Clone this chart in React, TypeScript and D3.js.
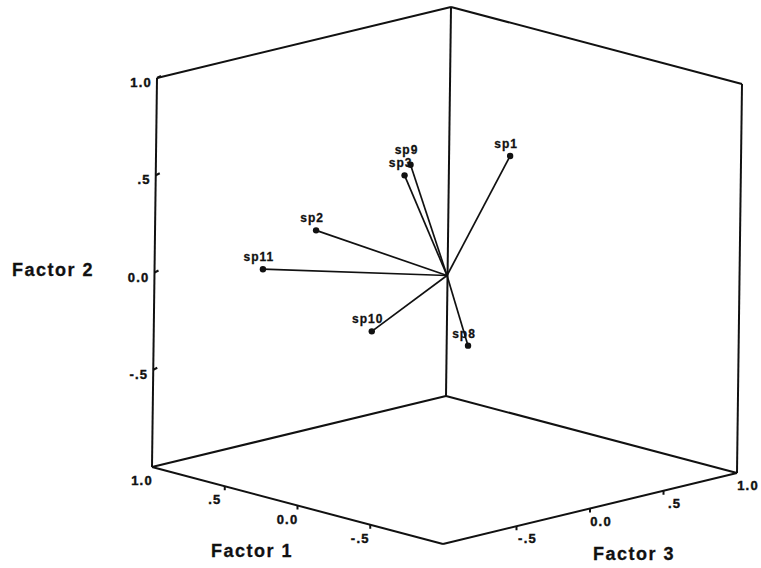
import React, { useEffect, useRef } from "react";
import * as d3 from "d3";

// factor loadings (Factor 1, Factor 2, Factor 3)
const species = ["sp1", "sp2", "sp3", "sp8", "sp9", "sp10", "sp11"];
const factor1 = [0.1, 0.7, 0.42, -0.1, 0.36, 0.41, 0.9];
const factor2 = [0.5, 0.13, 0.41, -0.35, 0.48, -0.35, -0.08];
const factor3 = [0.52, -0.2, 0.12, 0.05, 0.1, -0.1, -0.36];

const f1Ticks = [1, 0.5, 0, -0.5];
const f2Ticks = [1, 0.5, 0, -0.5];
const f3Ticks = [-0.5, 0, 0.5, 1];

const fmt = (v: number) => (v === 0 ? "0.0" : v === 1 ? "1.0" : v < 0 ? "-.5" : ".5");

const W = 761;
const H = 568;

const App: React.FC = () => {
  const svgRef = useRef<SVGSVGElement>(null);

  useEffect(() => {
    document.body.style.margin = "0";
    if (!svgRef.current) return;
    const svg = d3.select(svgRef.current);
    svg.selectAll("*").remove();

    const origin = { x: 447, y: 275.5 };
    // each factor moves the point along its own screen direction
    const x1 = d3.scaleLinear().domain([-1, 1]).range([145.5, -145.5]);
    const y1 = d3.scaleLinear().domain([-1, 1]).range([38.5, -38.5]);
    const x2 = d3.scaleLinear().domain([-1, 1]).range([-2.5, 2.5]);
    const y2 = d3.scaleLinear().domain([-1, 1]).range([194.5, -194.5]);
    const x3 = d3.scaleLinear().domain([-1, 1]).range([-147, 147]);
    const y3 = d3.scaleLinear().domain([-1, 1]).range([35.5, -35.5]);

    const proj = (a: number, b: number, c: number): [number, number] => [
      origin.x + x1(a) + x2(b) + x3(c),
      origin.y + y1(a) + y2(b) + y3(c),
    ];

    const font = "'Liberation Sans', Arial, sans-serif";
    const ink = "#111";

    const edges: [number, number, number][][] = [
      [[1, -1, -1], [1, 1, -1]],
      [[1, -1, 1], [1, 1, 1]],
      [[-1, -1, 1], [-1, 1, 1]],
      [[1, 1, -1], [1, 1, 1]],
      [[1, 1, 1], [-1, 1, 1]],
      [[1, -1, -1], [1, -1, 1]],
      [[1, -1, 1], [-1, -1, 1]],
      [[1, -1, -1], [-1, -1, -1]],
      [[-1, -1, -1], [-1, -1, 1]],
    ];

    const g = svg.append("g");

    g.selectAll("line.edge")
      .data(edges)
      .join("line")
      .attr("class", "edge")
      .attr("x1", d => proj(...d[0])[0])
      .attr("y1", d => proj(...d[0])[1])
      .attr("x2", d => proj(...d[1])[0])
      .attr("y2", d => proj(...d[1])[1])
      .attr("stroke", ink)
      .attr("stroke-width", 2);

    const tickStyle = (sel: any) =>
      sel
        .attr("font-family", font)
        .attr("font-weight", "bold")
        .attr("font-size", 13)
        .attr("letter-spacing", 1.2)
        .attr("fill", ink)
        .attr("stroke", ink)
        .attr("stroke-width", 0.4);

    // Factor 2 (left vertical)
    f2Ticks.forEach(t => {
      const [px, py] = proj(1, t, -1);
      g.append("line")
        .attr("x1", px).attr("y1", py).attr("x2", px + 4).attr("y2", py - 2)
        .attr("stroke", ink).attr("stroke-width", 2);
      g.append("text")
        .attr("x", px - 5).attr("y", py + 9)
        .attr("text-anchor", "end")
        .call(tickStyle)
        .text(fmt(t));
    });

    // Factor 1 (front-left bottom edge)
    f1Ticks.forEach(t => {
      const [px, py] = proj(t, -1, -1);
      if (t !== 1) {
        g.append("line")
          .attr("x1", px).attr("y1", py).attr("x2", px).attr("y2", py + 4)
          .attr("stroke", ink).attr("stroke-width", 2);
      }
      g.append("text")
        .attr("x", px - 10).attr("y", py + 18)
        .attr("text-anchor", "middle")
        .call(tickStyle)
        .text(fmt(t));
    });

    // Factor 3 (front-right bottom edge)
    f3Ticks.forEach(t => {
      const [px, py] = proj(-1, -1, t);
      if (t !== 1) {
        g.append("line")
          .attr("x1", px).attr("y1", py).attr("x2", px).attr("y2", py + 4)
          .attr("stroke", ink).attr("stroke-width", 2);
      }
      g.append("text")
        .attr("x", px + 11).attr("y", py + 17)
        .attr("text-anchor", "middle")
        .call(tickStyle)
        .text(fmt(t));
    });

    const titleStyle = (sel: any) =>
      sel
        .attr("font-family", font)
        .attr("font-weight", "bold")
        .attr("font-size", 18)
        .attr("letter-spacing", 1.5)
        .attr("fill", ink)
        .attr("stroke", ink)
        .attr("stroke-width", 0.3);

    g.append("text").attr("x", 12).attr("y", 276).call(titleStyle).text("Factor 2");
    g.append("text").attr("x", 252).attr("y", 557).attr("text-anchor", "middle").call(titleStyle).text("Factor 1");
    g.append("text").attr("x", 634).attr("y", 560).attr("text-anchor", "middle").call(titleStyle).text("Factor 3");

    const pts = species.map((name, i) => {
      const [px, py] = proj(factor1[i], factor2[i], factor3[i]);
      return { name, px, py };
    });

    g.selectAll("line.vec")
      .data(pts)
      .join("line")
      .attr("class", "vec")
      .attr("x1", origin.x)
      .attr("y1", origin.y)
      .attr("x2", d => d.px)
      .attr("y2", d => d.py)
      .attr("stroke", ink)
      .attr("stroke-width", 1.7);

    g.selectAll("circle.pt")
      .data(pts)
      .join("circle")
      .attr("class", "pt")
      .attr("cx", d => d.px)
      .attr("cy", d => d.py)
      .attr("r", 3.2)
      .attr("fill", ink);

    // labels above the points, pushed up when they collide
    const placed: { x: number; y: number }[] = [];
    [...pts].sort((a, b) => b.py - a.py).forEach(p => {
      const lx = p.px - 4;
      let ly = p.py - 8;
      placed.forEach(q => {
        if (Math.abs(q.x - lx) < 26 && Math.abs(q.y - ly) < 13) ly = q.y - 13;
      });
      placed.push({ x: lx, y: ly });
      g.append("text")
        .attr("x", lx)
        .attr("y", ly)
        .attr("text-anchor", "middle")
        .attr("font-family", font)
        .attr("font-weight", "bold")
        .attr("font-size", 12)
        .attr("letter-spacing", 1)
        .attr("fill", ink)
        .attr("stroke", ink)
        .attr("stroke-width", 0.3)
        .text(p.name);
    });
  }, []);

  return <svg ref={svgRef} width={W} height={H} style={{ display: "block", background: "#fff" }} />;
};

export default App;
